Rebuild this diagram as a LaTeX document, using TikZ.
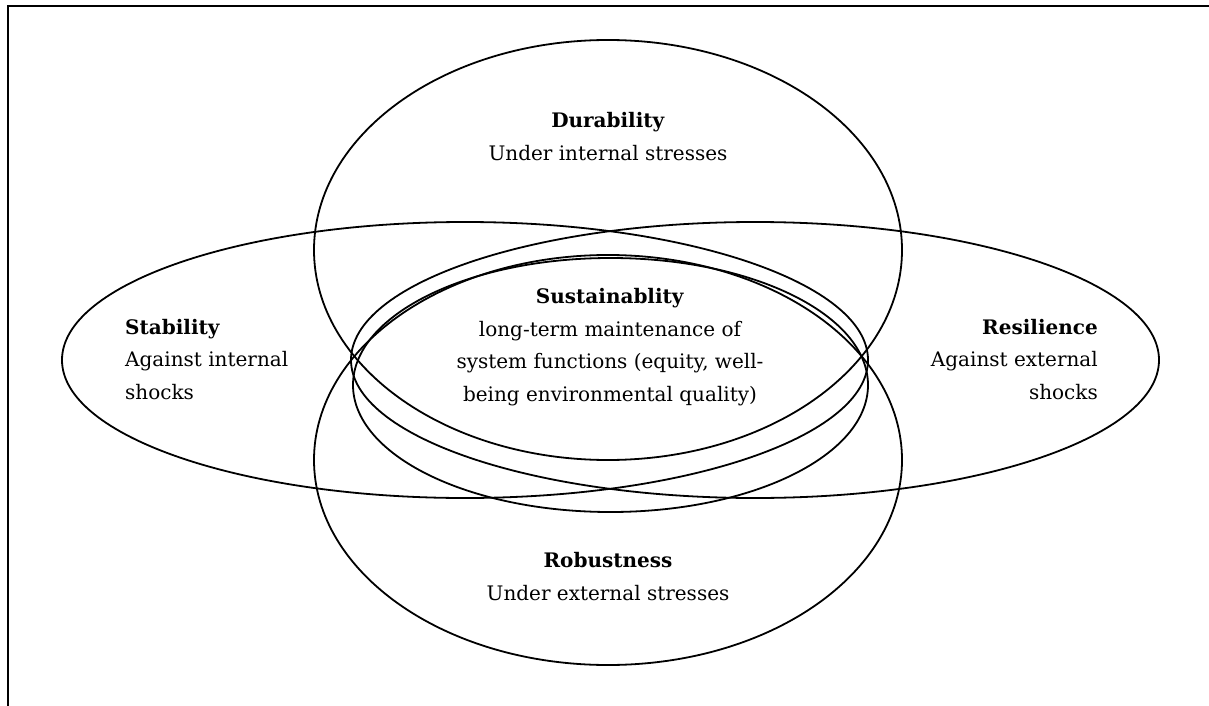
\documentclass[tikz,border=0pt]{standalone}
\usepackage{fontspec}
\setmainfont{DejaVu Serif}
\begin{document}
\begin{tikzpicture}[x=1pt,y=-1pt,
  ring/.style={draw=black, line width=1.8pt},
  frame/.style={draw=black, line width=2.2pt},
  lbl/.style={inner sep=0pt, font=\fontsize{20}{32.5}\selectfont}]
\useasboundingbox (0,0) rectangle (1209,706);
\draw[frame] (8,706) -- (8,6) -- (1209,6);
% ellipses
\draw[ring] (608,250) ellipse [x radius=294pt, y radius=210pt];
\draw[ring] (608,460) ellipse [x radius=294pt, y radius=205pt];
\draw[ring] (465,360) ellipse [x radius=403pt, y radius=138pt];
\draw[ring] (755,360) ellipse [x radius=404pt, y radius=138pt];
\draw[ring] (610.5,385) ellipse [x radius=257.5pt, y radius=127pt];
% labels
\node[lbl, align=center] (dur) at (608,136.5) {\textbf{Durability}\\Under internal stresses};
\node[lbl, align=center] (sus) at (610,347) {\textbf{Sustainablity}\\long-term maintenance of\\system functions (equity, well-\\being environmental quality)};
\node[lbl, align=left, anchor=west] (sta) at (125,359.5) {\textbf{Stability}\\Against internal\\shocks};
\node[lbl, align=right, anchor=east] (res) at (1098,359.5) {\textbf{Resilience}\\Against external\\shocks};
\node[lbl, align=center] (rob) at (608,576.5) {\textbf{Robustness}\\Under external stresses};
\end{tikzpicture}
\end{document}
